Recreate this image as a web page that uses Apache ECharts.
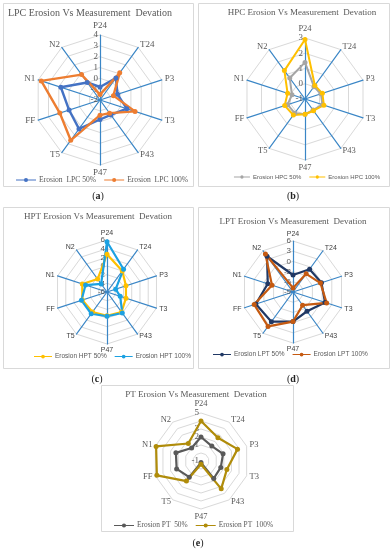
<!DOCTYPE html>
<html><head><meta charset="utf-8">
<script src="https://cdn.jsdelivr.net/npm/echarts@6/dist/echarts.min.js"></script>
<style>html,body{margin:0;padding:0;background:#fff}#c{width:392px;height:550px}</style>
</head><body><div id="c"></div>
<script>
// ---- data (category order clockwise from top) ----
const categories = ['P24','T24','P3','T3','P43','P47','T5','FF','N1','N2'];

const lpcNames = ['Erosion  LPC 50%', 'Erosion  LPC 100%'];
const lpc50  = [-0.8, 0.5, -0.3, 0.6, -0.3, -0.2, 1.3, 1.0, 1.8, 0.0];
const lpc100 = [-1.5, 1.1, -0.7, 1.4, -0.5, -0.6, 2.6, 1.9, 3.7, 0.9];
const lpcTicks = [-2, -1, 0, 1, 2, 3, 4];

const hpcNames = ['Erosion HPC 50%', 'Erosion HPC 100%'];
const hpc50  = [1.4, 0.0, 0.1, 0.2, -0.1, 0.0, 0.15, 0.2, -0.1, 0.7];
const hpc100 = [2.9, 0.1, 0.2, 0.3, -0.05, 0.0, 0.3, 0.4, 0.2, 1.3];
const hpcTicks = [-1, 0, 1, 2, 3];

const hptNames = ['Erosion HPT 50%', 'Erosion HPT 100%'];
const hpt50  = [2.7, 0.0, -1.4, -1.4, -0.3, -0.5, -0.3, 0.0, 0.0, -2.3];
const hpt100 = [5.6, 0.5, -3.9, -2.8, 0.0, -0.4, 0.2, 0.2, -0.8, -3.7];
const hptTicks = [-6, -4, -2, 0, 2, 4, 6];

const lptNames = ['Erosion LPT 50%', 'Erosion LPT 100%'];
const lpt50  = [-4.0, -0.7, -0.2, 0.9, -2.0, -0.3, 1.8, 2.5, -1.2, 4.0];
const lpt100 = [-7.8, -2.4, -0.5, 1.4, -4.2, -0.3, 3.5, 3.0, -2.5, 4.8];
const lptTicks = [-9, -6, -3, 0, 3, 6];

const ptNames = ['Erosion PT  50%', 'Erosion PT  100%'];
const pt50  = [2.0, 1.3, 1.9, 1.6, 1.7, -0.8, 1.5, 2.2, 2.3, 1.0];
const pt100 = [4.0, 2.6, 3.8, 2.4, 3.3, -0.6, 2.1, 4.8, 4.9, 1.7];
const ptTicks = [-1, 0, 1, 2, 3, 4, 5];

const titles = [
  'LPC Erosion Vs Measurement  Devation',
  'HPC Erosion Vs Measurement  Devation',
  'HPT Erosion Vs Measurement  Devation',
  'LPT Erosion Vs Measurement  Devation',
  'PT Erosion Vs Measurement  Devation'
];
const captions = ['a', 'b', 'c', 'd', 'e'];

// ---- layout / style ----
const SERIF = '"Liberation Serif", "DejaVu Serif", serif';
const SANS = '"Liberation Sans", Arial, sans-serif';
const panels = [
  { names: lpcNames, data: [lpc50, lpc100], ticks: lpcTicks, colors: ['#4472C4', '#ED7D31'],
    box: [3, 3, 190, 183], center: [100, 100], radius: 65, titleY: 13, titleX: 90, titleSize: 10,
    font: SERIF, nameSize: 9, nameColor: '#595959', labelSize: 9, spokes: true, lw: 2.4,
    legend: { left: 16, top: 176 }, iconW: 20, legendSize: 7.6, legendFont: SERIF, capX: 98, capY: 196 },
  { names: hpcNames, data: [hpc50, hpc100], ticks: hpcTicks, colors: ['#A5A5A5', '#FFC000'],
    box: [198, 3, 191, 183], center: [305, 99], radius: 61, titleY: 13, titleX: 302, titleSize: 9,
    font: SERIF, nameSize: 8.5, nameColor: '#595959', labelSize: 9, spokes: true, lw: 2,
    legend: { right: 12, top: 174 }, iconW: 16, legendSize: 6, legendFont: SANS, capX: 293, capY: 196 },
  { names: hptNames, data: [hpt50, hpt100], ticks: hptTicks, colors: ['#FFC000', '#1BA1E2'],
    box: [3, 207, 190, 161], center: [107, 292], radius: 52, titleY: 217, titleX: 98, titleSize: 9,
    font: SANS, nameSize: 7, nameColor: '#404040', labelSize: 8, spokes: true, lw: 2.2,
    legend: { left: 34, top: 353 }, iconW: 18, legendSize: 6.5, legendFont: SANS, capX: 97, capY: 379 },
  { names: lptNames, data: [lpt50, lpt100], ticks: lptTicks, colors: ['#203864', '#C55A11'],
    box: [198, 207, 191, 161], center: [293, 292], radius: 51, titleY: 222, titleX: 293, titleSize: 9,
    font: SANS, nameSize: 7, nameColor: '#404040', labelSize: 8, spokes: true, lw: 2.2,
    legend: { left: 213, top: 351 }, iconW: 18, legendSize: 6.5, legendFont: SANS, capX: 293, capY: 379 },
  { names: ptNames, data: [pt50, pt100], ticks: ptTicks, colors: ['#595959', '#B08C0A'],
    box: [101, 385, 192, 146], center: [201, 461], radius: 48, titleY: 395, titleX: 196, titleSize: 9,
    font: SERIF, nameSize: 8.5, nameColor: '#595959', labelSize: 9, spokes: false, lw: 2.2,
    legend: { left: 114, top: 522 }, iconW: 20, legendSize: 7.4, legendFont: SERIF, capX: 198, capY: 543 }
];

// ECharts radar runs counter-clockwise: reorder to get clockwise layout
const order = [0, 9, 8, 7, 6, 5, 4, 3, 2, 1];
const reorder = arr => order.map(i => arr[i]);
const ICON = 'path://M0,2.3H24V3.7H0Z M9.5,3A2.5,2.5,0,1,1,14.5,3A2.5,2.5,0,1,1,9.5,3Z';

const radar = [], series = [], legend = [], graphic = [];
panels.forEach((p, i) => {
  const min = p.ticks[0], max = p.ticks[p.ticks.length - 1];
  radar.push({
    center: p.center, radius: p.radius, startAngle: 90, shape: 'polygon',
    splitNumber: p.ticks.length - 1, nameGap: 3,
    indicator: order.map((ci, k) => {
      const o = { name: categories[ci], min: min, max: max };
      if (k === 0) o.axisLabel = { show: true, showMinLabel: true, showMaxLabel: true,
        color: '#595959', fontFamily: p.font, fontSize: p.labelSize, margin: 2 };
      return o;
    }),
    axisName: { color: p.nameColor, fontFamily: p.font, fontSize: p.nameSize },
    axisLine: { show: p.spokes, lineStyle: { color: '#3A86C6', width: 1.2 } },
    splitLine: { lineStyle: { color: '#D9D9D9', width: 1 } },
    splitArea: { show: false },
    axisTick: { show: false },
    axisLabel: { show: false }
  });
  series.push({
    type: 'radar', radarIndex: i, symbol: 'circle', symbolSize: 5, z: 3,
    data: p.names.map((n, k) => ({
      name: n, value: reorder(p.data[k]),
      lineStyle: { color: p.colors[k], width: p.lw },
      itemStyle: { color: p.colors[k] }
    }))
  });
  legend.push(Object.assign({
    data: p.names, icon: ICON, orient: 'horizontal',
    itemWidth: p.iconW, itemHeight: 5, itemGap: 8, padding: 0,
    textStyle: { color: '#595959', fontFamily: p.legendFont, fontSize: p.legendSize, padding: [0, 0, 0, -2] }
  }, p.legend));
  graphic.push({ type: 'rect', shape: { x: p.box[0] + 0.5, y: p.box[1] + 0.5, width: p.box[2], height: p.box[3] },
    style: { fill: 'none', stroke: '#D9D9D9', lineWidth: 1 }, z: -1 });
  graphic.push({ type: 'text', x: p.titleX, y: p.titleY,
    style: { text: titles[i], fill: '#595959', fontFamily: SERIF, fontSize: p.titleSize,
      align: 'center', verticalAlign: 'middle', textAlign: 'center', textVerticalAlign: 'middle' } });
  graphic.push({ type: 'text', x: p.capX, y: p.capY,
    style: { text: '{n|(}{b|' + captions[i] + '}{n|)}', align: 'center', verticalAlign: 'middle',
      textAlign: 'center', textVerticalAlign: 'middle',
      rich: { n: { fontFamily: SERIF, fontSize: 10, fill: '#222', color: '#222' },
              b: { fontFamily: SERIF, fontSize: 10, fontWeight: 'bold', fill: '#222', color: '#222' } } } });
});

const chart = echarts.init(document.getElementById('c'), null, { renderer: 'canvas' });
chart.setOption({
  animation: false,
  backgroundColor: '#fff',
  radar: radar,
  legend: legend,
  series: series,
  graphic: graphic
});
</script>
</body></html>
